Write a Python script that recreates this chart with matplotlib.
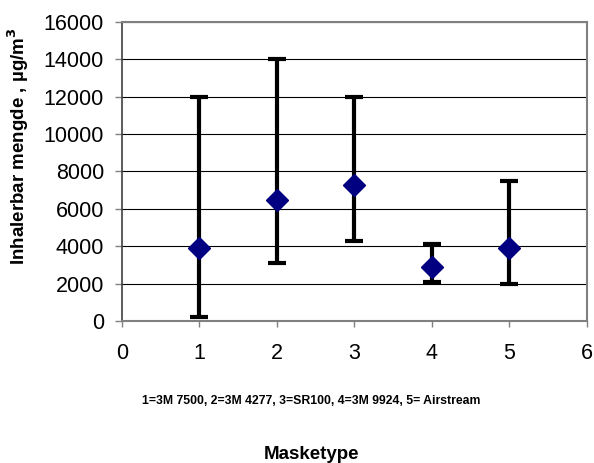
import matplotlib
matplotlib.use("Agg")
import matplotlib.pyplot as plt
import numpy as np

plt.rcParams['font.family'] = ['Liberation Sans', 'DejaVu Sans']

# Mask types (x positions) and measured inhalable concentrations
masketype = [1, 2, 3, 4, 5]
middel = [3900, 6500, 7300, 2900, 3900]
maks = [12000, 14000, 12000, 4100, 7500]
minimum = [200, 3100, 4300, 2100, 2000]

x_ticks = [0, 1, 2, 3, 4, 5, 6]
y_ticks = [0, 2000, 4000, 6000, 8000, 10000, 12000, 14000, 16000]

fig = plt.figure(figsize=(5.94, 4.63), dpi=100)
ax = fig.add_axes([0.2054, 0.3067, 0.7826, 0.6458])

mid = np.array(middel)
lower_err = mid - np.array(minimum)
upper_err = np.array(maks) - mid

ax.errorbar(masketype, middel, yerr=[lower_err, upper_err], fmt='none',
            ecolor='black', elinewidth=3.0, capsize=6.5, capthick=3.0,
            zorder=3)
for line in ax.lines:
    line.set_solid_capstyle('round')
ax.plot(masketype, middel, linestyle='none', marker='D', markersize=11.5,
        markerfacecolor='#000080', markeredgecolor='#000080', zorder=4)

ax.set_xlim(0, 6)
ax.set_ylim(0, 16000)
ax.set_xticks(x_ticks)
ax.set_yticks(y_ticks)
ax.yaxis.grid(True, color='black', linewidth=0.8)
ax.set_axisbelow(True)

ax.tick_params(axis='both', labelsize=15.5, direction='out', width=1,
               color='#808080')
ax.tick_params(axis='x', length=4, pad=12)
ax.tick_params(axis='y', length=5, pad=8)

for side in ['top', 'right', 'bottom']:
    ax.spines[side].set_color('#808080')
    ax.spines[side].set_linewidth(1.5)
ax.spines['left'].set_color('#404040')
ax.spines['left'].set_linewidth(1.2)

ax.set_ylabel('Inhalerbar mengde , µg/m$^\\mathbf{3}$', fontsize=13.5,
              fontweight='bold')
ax.yaxis.set_label_coords(-0.196, 0.585)

fig.text(0.5236, 0.134, '1=3M 7500, 2=3M 4277, 3=SR100, 4=3M 9924, 5= Airstream',
         ha='center', va='center', fontsize=8.8, fontweight='bold')
fig.text(0.5236, 0.019, 'Masketype', ha='center', va='center',
         fontsize=13.5, fontweight='bold')

fig.savefig('out.png', dpi=100)
